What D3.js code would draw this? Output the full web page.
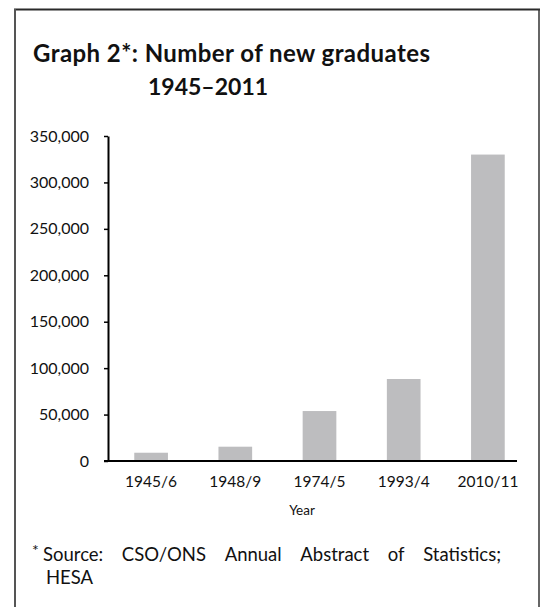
<!DOCTYPE html>
<html>
<head>
<meta charset="utf-8">
<script src="https://cdn.jsdelivr.net/npm/d3@7/dist/d3.min.js"></script>
<style>
  html, body { margin: 0; padding: 0; background: #fff; }
  svg { display: block; }
  text { font-family: Lato, "Open Sans", sans-serif; fill: #111; }
</style>
</head>
<body>
<svg id="chart" width="541" height="607"></svg>
<script>
// ---- data ----
const categories = ["1945/6", "1948/9", "1974/5", "1993/4", "2010/11"];
const graduates = [8900, 15400, 53800, 88300, 330000];
const yTicks = [0, 50000, 100000, 150000, 200000, 250000, 300000, 350000];
const titleLines = ["Graph 2*: Number of new graduates", "1945\u20132011"];
const xAxisTitle = "Year";
const sourceLine1 = ["Source:", "CSO/ONS", "Annual", "Abstract", "of", "Statistics;"];
const sourceLine2 = "HESA";

const svg = d3.select("#chart");

// frame
svg.append("line").attr("x1", 14).attr("x2", 540).attr("y1", 9.5).attr("y2", 9.5)
  .attr("stroke", "#2a2a2a").attr("stroke-width", 2);
svg.append("line").attr("x1", 15).attr("x2", 15).attr("y1", 9).attr("y2", 607)
  .attr("stroke", "#555").attr("stroke-width", 2);
svg.append("line").attr("x1", 539).attr("x2", 539).attr("y1", 9).attr("y2", 607)
  .attr("stroke", "#333").attr("stroke-width", 1.5);

// title
svg.append("text").attr("x", 33).attr("y", 62)
  .attr("font-size", 24).attr("font-weight", "bold")
  .attr("textLength", 397).attr("lengthAdjust", "spacing").text(titleLines[0]);
svg.append("text").attr("x", 148).attr("y", 95)
  .attr("font-size", 23).attr("font-weight", "bold").text(titleLines[1]);

// scales
const y = d3.scaleLinear().domain([0, 350000]).range([461, 136]);
const x = d3.scaleBand().domain(categories).range([109, 530])
  .paddingInner(0.6).paddingOuter(0.3);

// bars
svg.append("g").selectAll("rect").data(graduates).join("rect")
  .attr("x", (d, i) => x(categories[i]))
  .attr("width", x.bandwidth())
  .attr("y", d => y(d))
  .attr("height", d => y(0) - y(d))
  .attr("fill", "#bdbdbf");

// y axis
const yAxis = svg.append("g").attr("transform", "translate(108,0)")
  .call(d3.axisLeft(y).tickValues(yTicks).tickSize(4).tickSizeOuter(0)
    .tickPadding(15).tickFormat(d3.format(",")));
yAxis.select(".domain").attr("stroke", "#000").attr("stroke-width", 2);
yAxis.selectAll(".tick line").attr("stroke", "#000").attr("stroke-width", 1.5);
yAxis.selectAll(".tick text").attr("font-size", 16).attr("font-family", "Lato, sans-serif").attr("fill", "#111");

// x axis
const xAxis = svg.append("g").attr("transform", `translate(0,${y(0)})`)
  .call(d3.axisBottom(x).tickSize(0).tickPadding(15));
xAxis.select(".domain").remove();
xAxis.selectAll(".tick text").attr("font-size", 15.5).attr("font-family", "Lato, sans-serif").attr("fill", "#111");
svg.append("line").attr("x1", 104).attr("x2", 517)
  .attr("y1", y(0)).attr("y2", y(0))
  .attr("stroke", "#000").attr("stroke-width", 2);

// x axis title
svg.append("text").attr("x", 302).attr("y", 515).attr("text-anchor", "middle")
  .attr("font-size", 13.5).text(xAxisTitle);

// source note (justified first line)
svg.append("text").attr("x", 32).attr("y", 556).attr("font-size", 16).text("*");
const srcSize = 18.5;
const tmp = svg.append("g");
const widths = sourceLine1.map(w => {
  const t = tmp.append("text").attr("font-size", srcSize).text(w);
  return t.node().getComputedTextLength();
});
tmp.remove();
const left = 43, right = 501;
const totalW = d3.sum(widths);
const gap = (right - left - totalW) / (sourceLine1.length - 1);
let cx = left;
sourceLine1.forEach((w, i) => {
  svg.append("text").attr("x", cx).attr("y", 561).attr("font-size", srcSize).text(w);
  cx += widths[i] + gap;
});
svg.append("text").attr("x", 46).attr("y", 584).attr("font-size", srcSize).text(sourceLine2);
</script>
</body>
</html>
